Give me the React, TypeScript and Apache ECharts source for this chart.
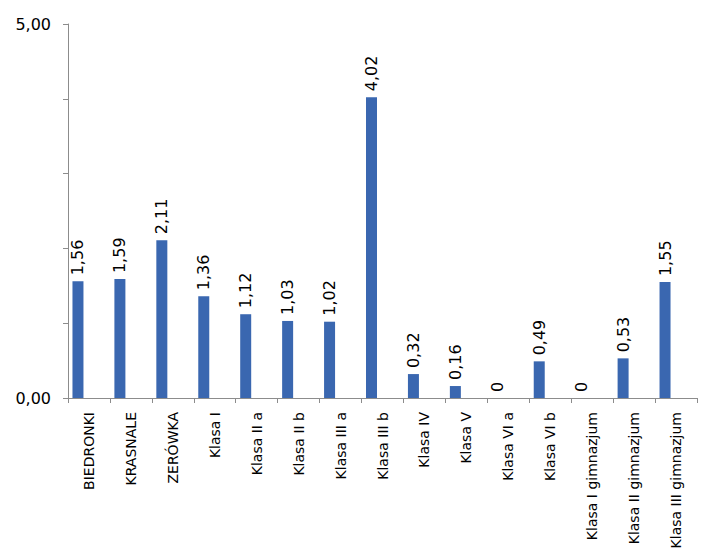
import React, { useEffect, useRef } from "react";
import * as echarts from "echarts";

const categories = [
  "BIEDRONKI",
  "KRASNALE",
  "ZERÓWKA",
  "Klasa I",
  "Klasa II a",
  "Klasa II b",
  "Klasa III a",
  "Klasa III b",
  "Klasa IV",
  "Klasa V",
  "Klasa VI a",
  "Klasa VI b",
  "Klasa I gimnazjum",
  "Klasa II gimnazjum",
  "Klasa III gimnazjum",
];
const values = [1.56, 1.59, 2.11, 1.36, 1.12, 1.03, 1.02, 4.02, 0.32, 0.16, 0, 0.49, 0, 0.53, 1.55];
const emptySeries = categories.map(() => null);
const yTickLabels = ["0,00", "5,00"];

const fmt = (v: number) => (v === 0 ? "0" : v.toFixed(2).replace(".", ","));

export default function App() {
  const ref = useRef<HTMLDivElement>(null);
  useEffect(() => {
    if (!ref.current) return;
    const chart = echarts.init(ref.current, undefined, { renderer: "svg" });
    chart.setOption({
      animation: false,
      grid: { left: 68, right: 7, top: 24, bottom: 156, containLabel: false },
      xAxis: {
        type: "category",
        data: categories,
        boundaryGap: true,
        axisLine: { show: true, lineStyle: { color: "#8c8c8c", width: 1 } },
        axisTick: { show: true, length: 5, lineStyle: { color: "#8c8c8c" } },
        axisLabel: {
          rotate: 90,
          interval: 0,
          margin: 14,
          fontFamily: "DejaVu Sans",
          fontSize: 14,
          color: "#000",
        },
      },
      yAxis: {
        type: "value",
        min: 0,
        max: 5,
        interval: 1,
        axisLine: { show: true, lineStyle: { color: "#8c8c8c", width: 1 } },
        axisTick: { show: true, length: 5, lineStyle: { color: "#8c8c8c" } },
        splitLine: { show: false },
        axisLabel: {
          margin: 17,
          fontFamily: "DejaVu Sans",
          fontSize: 16,
          color: "#000",
          formatter: (v: number) => (v === 0 ? yTickLabels[0] : v === 5 ? yTickLabels[1] : ""),
        },
      },
      series: [
        {
          type: "bar",
          data: values,
          barWidth: 11,
          barGap: "100%",
          itemStyle: { color: "#3A67B0" },
          label: {
            show: true,
            position: "top",
            rotate: 90,
            align: "left",
            verticalAlign: "middle",
            distance: 6,
            fontFamily: "DejaVu Sans",
            fontSize: 16,
            color: "#000",
            formatter: (p: any) => fmt(p.value),
          },
        },
        {
          type: "bar",
          data: emptySeries,
          barWidth: 11,
          barGap: "100%",
          itemStyle: { color: "#3A67B0" },
        },
      ],
    });
    return () => chart.dispose();
  }, []);
  return <div ref={ref} style={{ width: 704, height: 554, position: "absolute", left: 0, top: 0 }} />;
}
